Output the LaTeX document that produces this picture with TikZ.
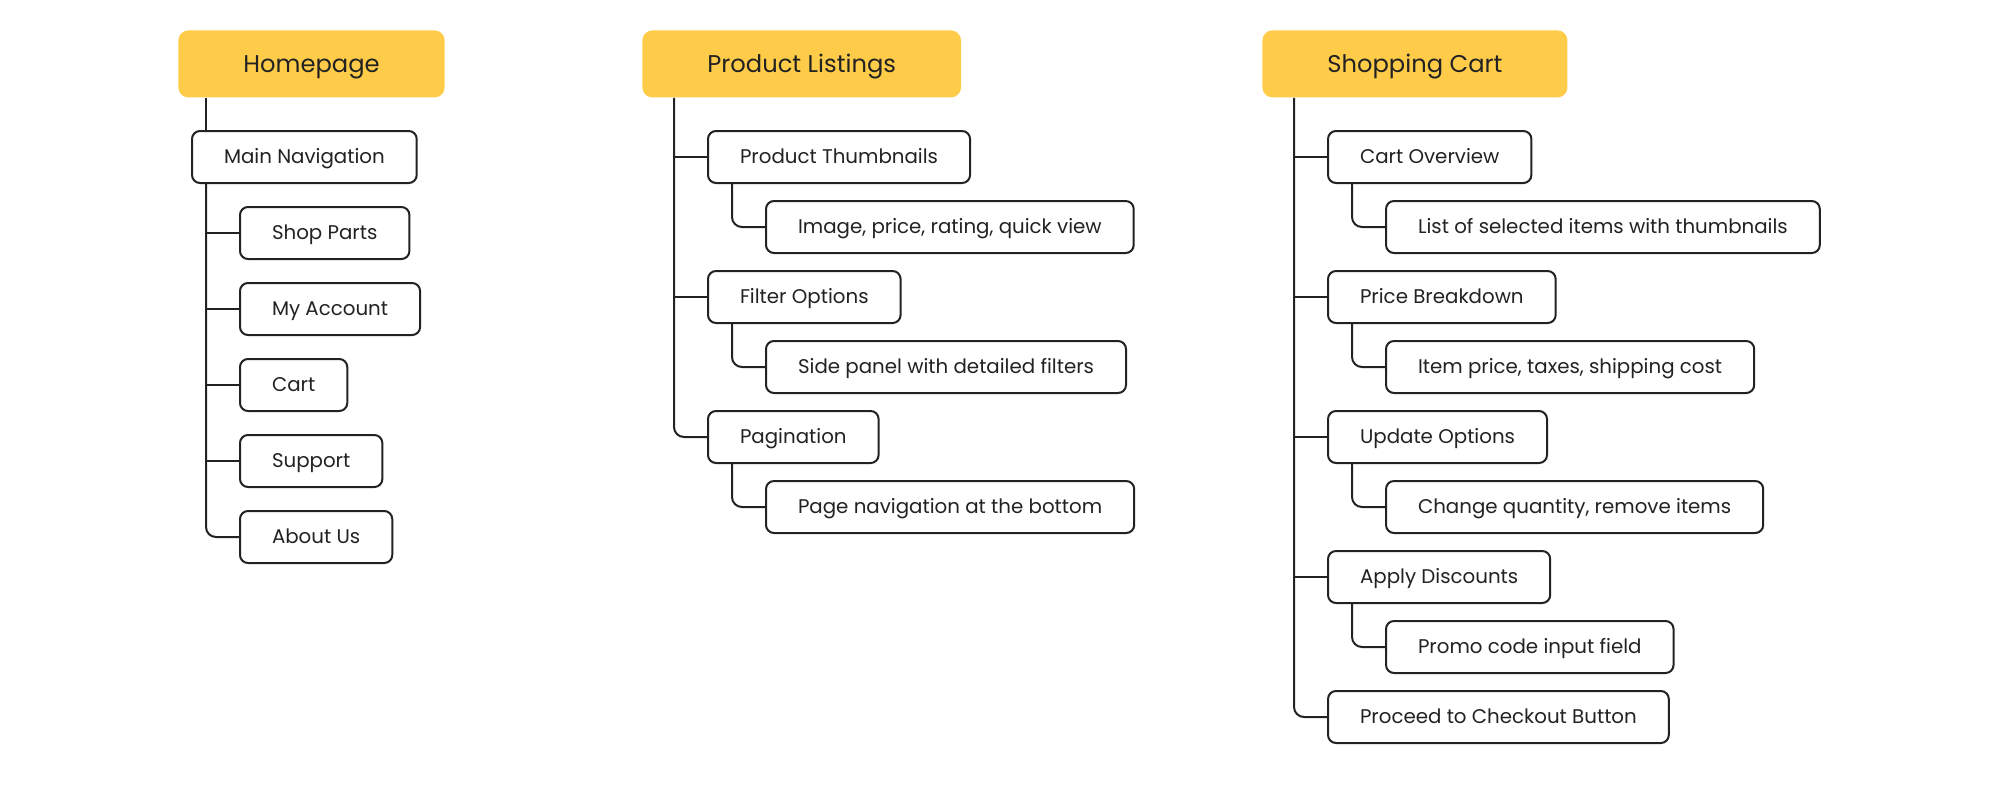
\documentclass[tikz,border=0pt]{standalone}
\usepackage{fontspec}
\setmainfont{Poppins}
\usetikzlibrary{positioning}

\definecolor{headyellow}{HTML}{FFCC4A}
\definecolor{ink}{HTML}{222222}

\begin{document}
\begin{tikzpicture}[x=0.5pt, y=-0.5pt]

  \tikzstyle{head} = [fill=headyellow, rounded corners=5pt, text=ink, anchor=north west,
                      font=\fontsize{12.1}{14}\selectfont, text height=8.5pt, text depth=0pt,
                      inner xsep=32.5pt, minimum height=33.5pt]
  \tikzstyle{item} = [draw=ink, line width=1pt, rounded corners=4pt, fill=white, text=ink, anchor=west,
                      font=\fontsize{9.9}{11}\selectfont, text height=6.9pt, text depth=0pt,
                      inner xsep=16pt, minimum height=26pt]
  \tikzstyle{link} = [draw=ink, line width=1pt, rounded corners=5pt]

  \useasboundingbox[fill=white] (0,0) rectangle (2000,800);

  % homepage
  \node[head] (hp) at (178,30) {Homepage};
  \node[item] (mn) at (191,157) {Main Navigation};
  \node[item] (sp) at (239,233) {Shop Parts};
  \node[item] (ma) at (239,309) {My Account};
  \node[item] (ct) at (239,385) {Cart};
  \node[item] (su) at (239,461) {Support};
  \node[item] (au) at (239,537) {About Us};

  \coordinate (hpt) at (206,0);
  \draw[link] (hpt |- hp.south) -- (hpt |- mn.north);
  \draw[link] (hpt |- mn.south) |- (au.west);
  \foreach \n in {sp,ma,ct,su}
    \draw[link] (hpt |- \n.west) -- (\n.west);

  % product listings
  \node[head] (pl) at (642,30) {Product Listings};
  \node[item] (pt) at (707,157) {Product Thumbnails};
  \node[item] (ip) at (765,227) {Image, price, rating, quick view};
  \node[item] (fo) at (707,297) {Filter Options};
  \node[item] (sd) at (765,367) {Side panel with detailed filters};
  \node[item] (pg) at (707,437) {Pagination};
  \node[item] (pn) at (765,507) {Page navigation at the bottom};

  \coordinate (plt) at (674,0);
  \coordinate (pls) at (732,0);
  \draw[link] (plt |- pl.south) |- (pg.west);
  \foreach \n in {pt,fo}
    \draw[link] (plt |- \n.west) -- (\n.west);
  \draw[link] (pls |- pt.south) |- (ip.west);
  \draw[link] (pls |- fo.south) |- (sd.west);
  \draw[link] (pls |- pg.south) |- (pn.west);

  % shopping cart
  \node[head] (sc) at (1262,30) {Shopping Cart};
  \node[item] (co) at (1327,157) {Cart Overview};
  \node[item] (ls) at (1385,227) {List of selected items with thumbnails};
  \node[item] (pb) at (1327,297) {Price Breakdown};
  \node[item] (ic) at (1385,367) {Item price, taxes, shipping cost};
  \node[item] (uo) at (1327,437) {Update Options};
  \node[item] (cq) at (1385,507) {Change quantity, remove items};
  \node[item] (ad) at (1327,577) {Apply Discounts};
  \node[item] (pc) at (1385,647) {Promo code input field};
  \node[item] (pr) at (1327,717) {Proceed to Checkout Button};

  \coordinate (sct) at (1294,0);
  \coordinate (scs) at (1352,0);
  \draw[link] (sct |- sc.south) |- (pr.west);
  \foreach \n in {co,pb,uo,ad}
    \draw[link] (sct |- \n.west) -- (\n.west);
  \draw[link] (scs |- co.south) |- (ls.west);
  \draw[link] (scs |- pb.south) |- (ic.west);
  \draw[link] (scs |- uo.south) |- (cq.west);
  \draw[link] (scs |- ad.south) |- (pc.west);

\end{tikzpicture}
\end{document}
